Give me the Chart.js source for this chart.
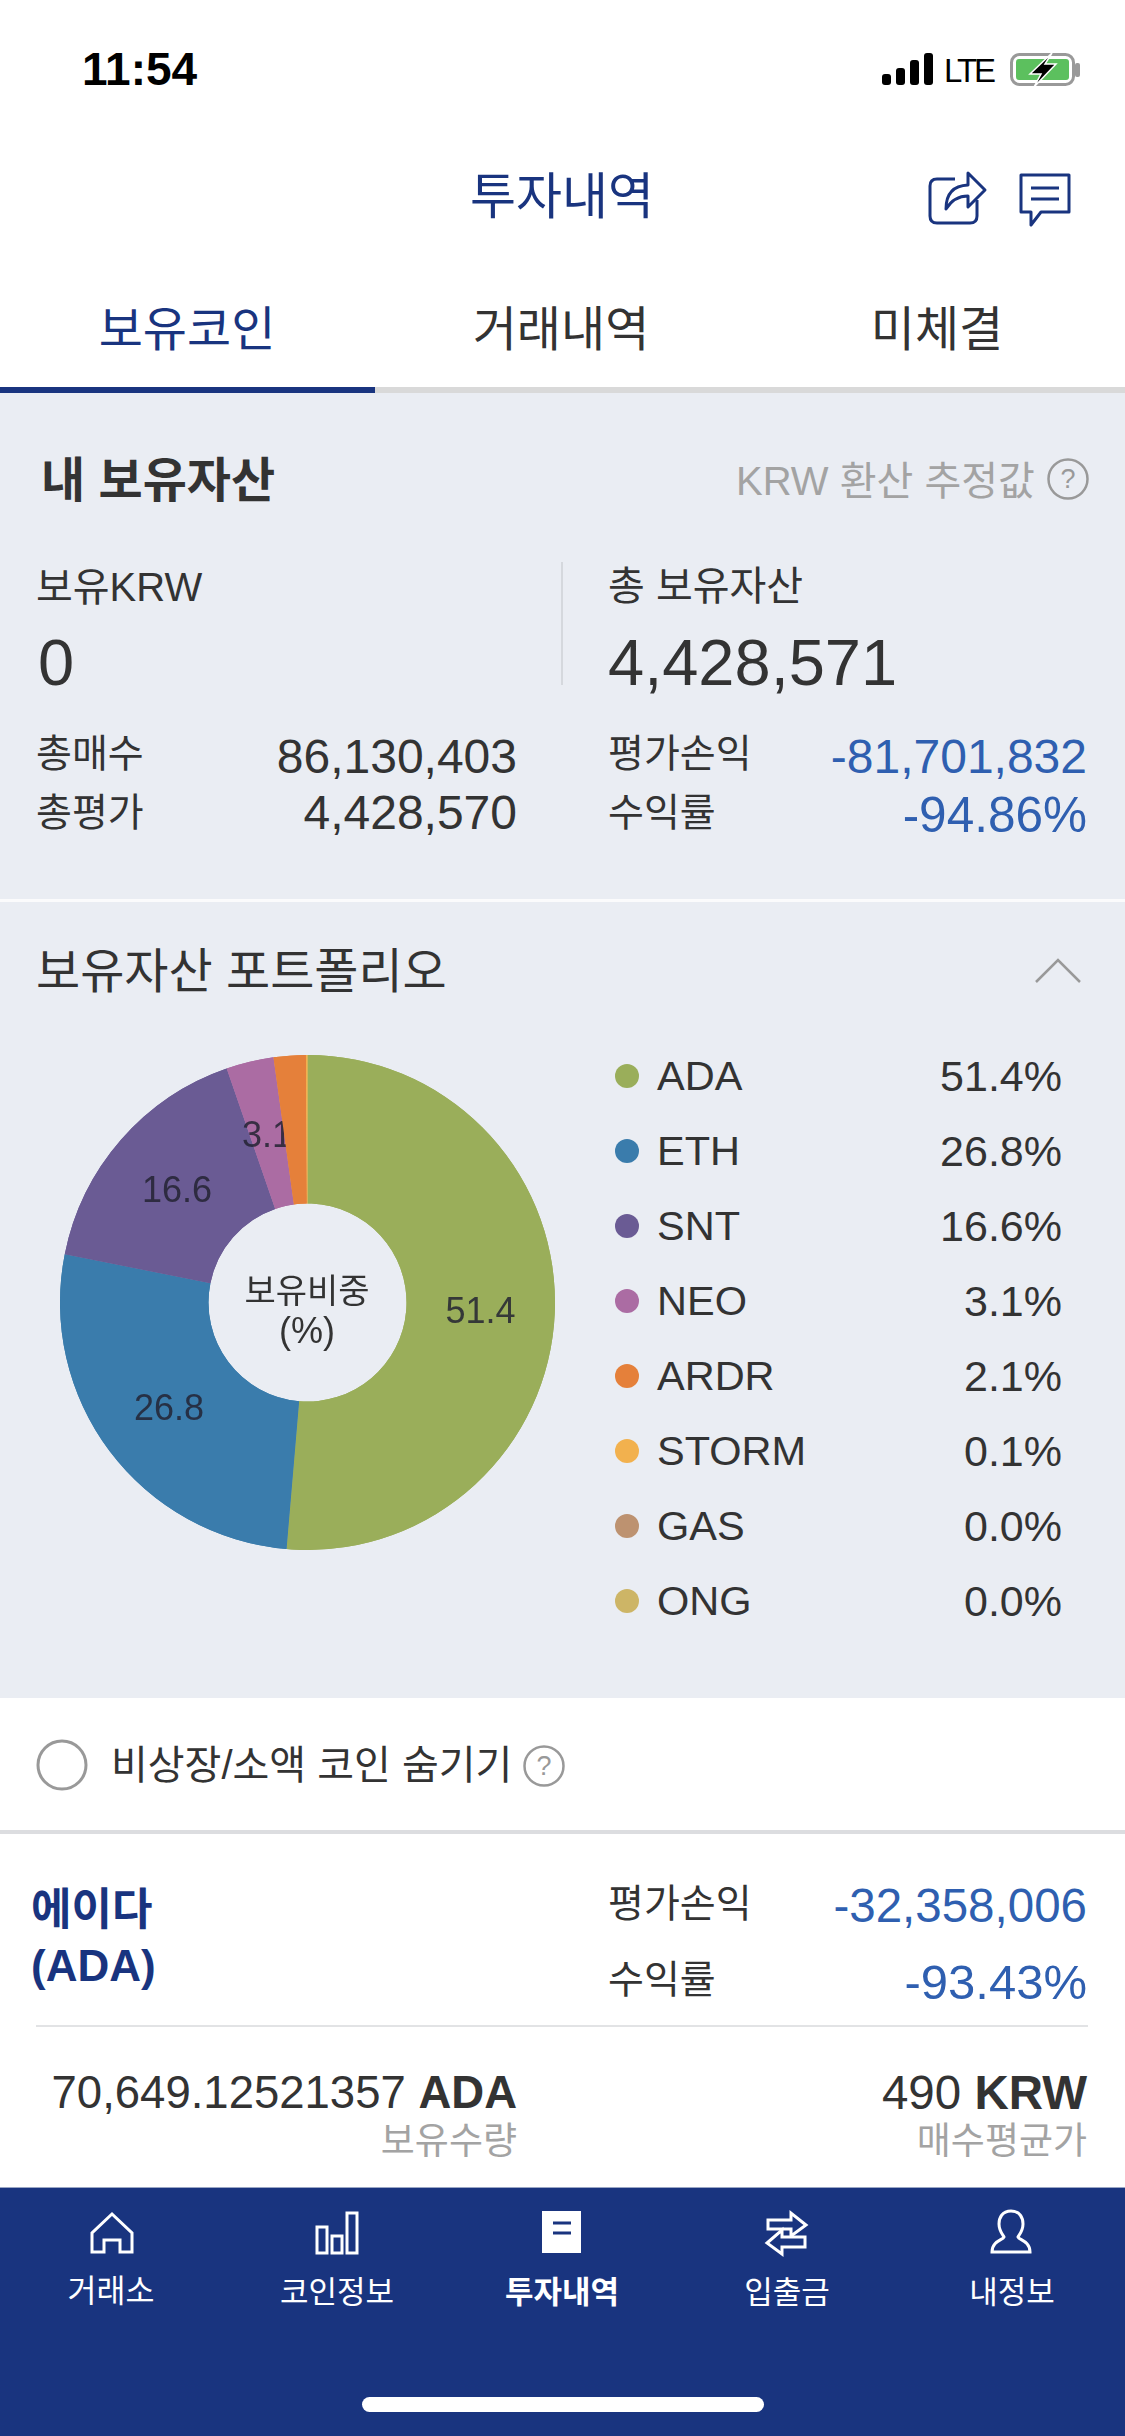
<!DOCTYPE html>
<html lang="ko">
<head>
<meta charset="utf-8">
<title>투자내역</title>
<style>
    html, body { margin: 0; padding: 0; background: #fff; }
    #page { position: relative; width: 1125px; height: 2436px; overflow: hidden; background: #fff;
            font-family: "Liberation Sans", "Noto Sans CJK KR", sans-serif; color: #333; }
    #page span { position: absolute; white-space: nowrap; line-height: 1; }
    .band { position: absolute; left: 0; width: 1125px; }
    .dot { position: absolute; width: 24px; height: 24px; border-radius: 50%; }
    #icons { position: absolute; left: 0; top: 0; }
    #pie-wrap { position: absolute; left: 60px; top: 1055px; width: 495px; height: 495px; }
</style>
<script src="https://cdn.jsdelivr.net/npm/chart.js@4"></script>
</head>
<body>
<div id="page">
    <div class="band" style="top:393px;height:1305px;background:#eaedf3"></div>
    <div class="band" style="top:899px;height:3px;background:#fbfbfc"></div>
    <div class="band" style="top:1830px;height:4px;background:#dcdde0"></div>
    <div class="band" style="top:2187px;height:249px;background:#19347f;border-top:1px solid #9aa6c4;box-sizing:border-box"></div>
    <div class="band" style="top:387px;height:6px;background:#d9d9d9"></div>
    <div class="band" style="top:387px;height:6px;width:375px;background:#19347f"></div>

    <svg id="icons" width="1125" height="2436" fill="none">
        <!-- status bar -->
        <g fill="#000">
            <rect x="882" y="74" width="9" height="11" rx="3"/>
            <rect x="896" y="68" width="9" height="17" rx="3"/>
            <rect x="910" y="60" width="9" height="25" rx="3"/>
            <rect x="924" y="53" width="9" height="32" rx="3"/>
        </g>
        <rect x="1011.5" y="54.5" width="62" height="30" rx="8" stroke="#999" stroke-width="3"/>
        <rect x="1016" y="59" width="53" height="21" rx="3" fill="#5cc05e"/>
        <rect x="1075" y="63" width="5" height="14" rx="2" fill="#999"/>
        <path d="M1052 53 L1030 74 H1041 L1034 87 L1056 64 H1045 Z" fill="#000" stroke="#fff" stroke-width="1.5"/>

        <!-- header icons -->
        <g stroke="#19347f" stroke-width="3" stroke-linejoin="round">
            <path d="M955 179 H937 Q930 179 930 186 V216 Q930 223 937 223 H970 Q977 223 977 216 V200"/>
            <path d="M946 209 Q946 186 968 185 V173 L985 190 L968 207 V196 Q954 196 946 209 Z"/>
            <path d="M1021 175 H1069 V212 H1041 L1031 225 V212 H1021 Z"/>
            <path d="M1031 188 H1059 M1031 199 H1059"/>
        </g>

        <!-- help marks and chevron -->
        <circle cx="1068" cy="479" r="19.5" stroke="#999" stroke-width="2.5"/>
        <path d="M1036 982 L1058 960 L1080 982" stroke="#999" stroke-width="2.5"/>
        <line x1="562" y1="562" x2="562" y2="685" stroke="#d5d8dd" stroke-width="2"/>

        <circle cx="62" cy="1765" r="24" stroke="#999" stroke-width="3"/>
        <circle cx="544" cy="1766" r="19.5" stroke="#999" stroke-width="2.5"/>
        <line x1="36" y1="2026" x2="1088" y2="2026" stroke="#e2e3e5" stroke-width="2"/>

        <!-- tab bar -->
        <g stroke="#fff" stroke-width="3">
            <path d="M92 2252 V2233 L112 2214 L132 2233 V2252 H120 V2240 H104 V2252 Z"/>
            <rect x="317" y="2227" width="10" height="26"/>
            <rect x="332" y="2236" width="10" height="17"/>
            <rect x="347" y="2213" width="10" height="40"/>
            <path d="M768 2220 H791 V2213 L806 2225 L791 2236 V2229 H768 Z"/>
            <path d="M805 2237 H782 V2230 L767 2243 L782 2254 V2247 H805 Z" fill="#19347f"/>
            <path d="M1011 2211 C1002 2211 999 2218 999 2224 C999 2231 1003 2235 1004 2237 C1003 2240 992 2241 992 2252 H1030 C1030 2241 1019 2240 1018 2237 C1019 2235 1023 2231 1023 2224 C1023 2218 1020 2211 1011 2211 Z"/>
        </g>
        <rect x="542" y="2211" width="39" height="42" fill="#fff"/>
        <path d="M553 2223 H571 M553 2233 H571" stroke="#19347f" stroke-width="3"/>
        <rect x="362" y="2397" width="402" height="15" rx="7.5" fill="#fff"/>
    </svg>

    <div id="pie-wrap"><canvas id="pie" width="495" height="495"></canvas></div>
</div>

<script>
// wartości
const coins = ['ADA', 'ETH', 'SNT', 'NEO', 'ARDR', 'STORM', 'GAS', 'ONG'];
const shares = [51.4, 26.8, 16.6, 3.1, 2.1, 0.1, 0.0, 0.0];
const coinColors = ['#9aae5a', '#3a7cac', '#6a5b94', '#ab6ca3', '#e5803a', '#f2b14e', '#bd9270', '#cdb566'];
const minLabelShare = 3; // mniejsze wycinki nie mają etykiety

const page = document.getElementById('page');

function put(str, x, y, size, opts = {}) {
    const el = document.createElement('span');
    el.textContent = str;
    el.style.fontSize = size + 'px';
    el.style.top = y + 'px';
    if (opts.color) el.style.color = opts.color;
    if (opts.bold) el.style.fontWeight = 'bold';
    let shift = 'translateY(-50%)';
    if (opts.align === 'right') {
        el.style.right = (1125 - x) + 'px';
    } else if (opts.align === 'center') {
        el.style.left = x + 'px';
        shift = 'translate(-50%,-50%)';
    } else {
        el.style.left = x + 'px';
    }
    el.style.transform = shift;
    page.appendChild(el);
    return el;
}

const navy = '#19347f';
const loss = '#2f5fb0';
const dim = '#a3a3a3';

// pasek stanu i nagłówek
put('11:54', 82, 69, 46, { color: '#000', bold: true });
put('LTE', 944, 70, 33, { color: '#000' }).style.letterSpacing = '-3px';
put('투자내역', 562, 197, 50, { color: navy, align: 'center' });
put('보유코인', 187, 330, 48, { color: navy, align: 'center' });
put('거래내역', 561, 330, 48, { align: 'center' });
put('미체결', 937, 330, 48, { align: 'center' });

// mój majątek
put('내 보유자산', 41, 481, 48, { bold: true });
put('KRW 환산 추정값', 736, 481, 40, { color: dim });
put('?', 1068, 479, 27, { color: '#999', align: 'center' });
put('보유KRW', 36, 587, 40);
put('총 보유자산', 608, 586, 40);
put('0', 38, 662, 65);
put('4,428,571', 608, 662, 65);
put('총매수', 36, 753, 39);
put('86,130,403', 517, 757, 48, { align: 'right' });
put('총평가', 36, 812, 39);
put('4,428,570', 517, 813, 48, { align: 'right' });
put('평가손익', 608, 753, 39);
put('-81,701,832', 1087, 757, 48, { color: loss, align: 'right' });
put('수익률', 608, 812, 39);
put('-94.86%', 1087, 815, 49.5, { color: loss, align: 'right' });

// portfel
put('보유자산 포트폴리오', 36, 972, 48);
put('보유비중', 307, 1291, 34, { align: 'center' });
put('(%)', 307, 1331, 36, { align: 'center' });

// legenda
coins.forEach((coin, i) => {
    const rowY = 1076 + i * 75;
    const dot = document.createElement('div');
    dot.className = 'dot';
    dot.style.left = '615px';
    dot.style.top = (rowY - 12) + 'px';
    dot.style.background = coinColors[i];
    page.appendChild(dot);
    put(coin, 657, rowY, 41.5);
    put(shares[i].toFixed(1) + '%', 1062, rowY, 43, { align: 'right' });
});

// lista monet
put('비상장/소액 코인 숨기기', 111, 1765, 40);
put('?', 544, 1766, 27, { color: '#999', align: 'center' });
put('에이다', 31, 1910, 44, { color: navy, bold: true });
put('(ADA)', 31, 1966, 44, { color: navy, bold: true });
put('평가손익', 608, 1903, 39);
put('-32,358,006', 1087, 1906, 47.5, { color: loss, align: 'right' });
put('수익률', 608, 1979, 39);
put('-93.43%', 1087, 1982, 49, { color: loss, align: 'right' });
const held = put('70,649.12521357 ', 517, 2093, 45.5, { align: 'right' });
held.innerHTML = '70,649.12521357 <b>ADA</b>';
const avg = put('490 ', 1087, 2093, 47.5, { align: 'right' });
avg.innerHTML = '490 <b>KRW</b>';
put('보유수량', 517, 2141, 37, { color: dim, align: 'right' });
put('매수평균가', 1087, 2141, 37, { color: dim, align: 'right' });

// dolny pasek
put('거래소', 111, 2292, 31.5, { color: '#fff', align: 'center' });
put('코인정보', 337, 2292, 31, { color: '#fff', align: 'center' });
put('투자내역', 562, 2292, 31, { color: '#fff', align: 'center', bold: true });
put('입출금', 787, 2292, 31, { color: '#fff', align: 'center' });
put('내정보', 1012, 2292, 31, { color: '#fff', align: 'center' });

// etykiety rysowane po kolei, żeby następny wycinek mógł przykryć poprzednią (jak "3.1")
const sliceLabels = {
    id: 'sliceLabels',
    afterDatasetsDraw(chart) {
        const ctx = chart.ctx;
        chart.getDatasetMeta(0).data.forEach((arc, i) => {
            arc.draw(ctx);
            if (shares[i] < minLabelShare) return;
            const pos = arc.getCenterPoint();
            ctx.save();
            ctx.font = '36px "Liberation Sans"';
            ctx.fillStyle = 'rgba(35, 35, 50, 0.85)';
            ctx.textAlign = 'center';
            ctx.textBaseline = 'middle';
            ctx.fillText(shares[i].toFixed(1), pos.x, pos.y + 3);
            ctx.restore();
        });
    }
};

new Chart(document.getElementById('pie').getContext('2d'), {
    type: 'doughnut',
    data: {
        labels: coins,
        datasets: [{
            data: shares,
            backgroundColor: coinColors,
            borderWidth: 0
        }]
    },
    options: {
        responsive: false,
        animation: false,
        cutout: '40%',
        layout: { padding: 0 },
        plugins: {
            legend: { display: false },
            tooltip: { enabled: false }
        }
    },
    plugins: [sliceLabels]
});
</script>
</body>
</html>
